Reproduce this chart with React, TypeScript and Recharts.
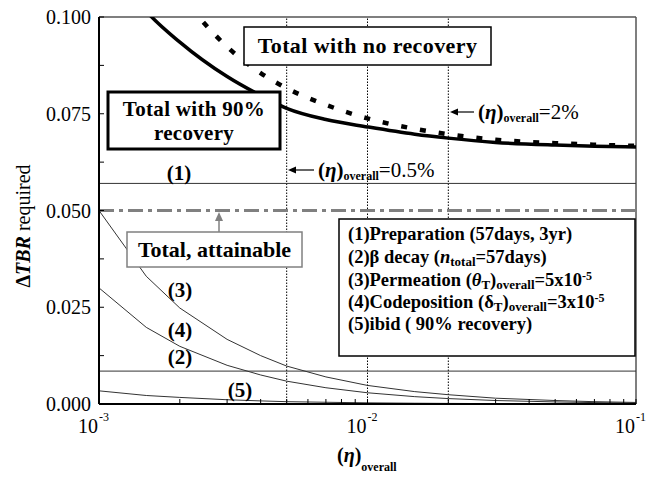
import React from 'react';
import { ComposedChart, Line, XAxis, YAxis, ReferenceLine } from 'recharts';

const ETA = [0.001, 0.0015, 0.002, 0.003, 0.004, 0.005, 0.007, 0.01, 0.015, 0.02, 0.03, 0.05, 0.07, 0.1];
const TOTAL_90 = [0.119, 0.1015, 0.0935, 0.0846, 0.0797, 0.0764, 0.0735, 0.0716, 0.0697, 0.0687, 0.0676, 0.0669, 0.0666, 0.0664];
const TOTAL_NONE = [0.145, 0.118, 0.106, 0.0923, 0.0855, 0.0816, 0.0773, 0.0738, 0.0711, 0.0697, 0.0683, 0.0674, 0.067, 0.0667];
const PERMEATION = [0.05, 0.033, 0.0248, 0.0167, 0.0125, 0.0098, 0.007, 0.0048, 0.0032, 0.0024, 0.0015, 0.0009, 0.0006, 0.0004];
const CODEPOSITION = [0.03, 0.0198, 0.0149, 0.01, 0.0075, 0.0059, 0.0042, 0.0029, 0.0019, 0.0014, 0.0009, 0.00054, 0.00036, 0.00024];
const IBID = [0.0034, 0.0022, 0.0017, 0.0011, 0.0008, 0.0006, 0.00045, 0.0003, 0.0002, 0.00015, 0.0001, 0.00006, 0.00004, 0.00003];

const PREPARATION = 0.057;
const BETA_DECAY = 0.0085;
const ATTAINABLE = 0.05;
const ETA_MARKS = [0.005, 0.01, 0.02];

const X_TICKS = [0.001, 0.002, 0.003, 0.004, 0.005, 0.006, 0.007, 0.008, 0.009, 0.01, 0.02, 0.03, 0.04, 0.05, 0.06, 0.07, 0.08, 0.09, 0.1];
const X_LABELS: Record<string, string> = { '0.001': '-3', '0.01': '-2', '0.1': '-1' };
const Y_TICKS = [0, 0.0125, 0.025, 0.0375, 0.05, 0.0625, 0.075, 0.0875, 0.1];
const Y_LABELS = [0, 0.025, 0.05, 0.075, 0.1];

const data = ETA.map((eta, i) => ({
  eta,
  total90: TOTAL_90[i],
  totalNone: TOTAL_NONE[i],
  perm: PERMEATION[i],
  codep: CODEPOSITION[i],
  ibid: IBID[i],
}));

const FONT = '"Liberation Serif", "Times New Roman", serif';

const XTick = (props: any) => {
  const { x, y, payload } = props;
  const v = payload.value;
  const lab = X_LABELS[String(v)];
  return (
    <g>
      <line x1={x} x2={x} y1={y} y2={y - 5} stroke="#000" strokeWidth={1} />
      {lab && (
        <text x={x - 1} y={y + 29} fontFamily={FONT} fontSize={20} fill="#000" textAnchor="end">10</text>
      )}
      {lab && (
        <text x={x} y={y + 17} fontFamily={FONT} fontSize={12} fill="#000" textAnchor="start">{lab}</text>
      )}
    </g>
  );
};

const YTick = (props: any) => {
  const { x, y, payload } = props;
  const v = payload.value;
  const isMajor = Y_LABELS.some((m) => Math.abs(m - v) < 1e-9);
  return (
    <g>
      <line x1={x} x2={x + 5} y1={y} y2={y} stroke="#000" strokeWidth={1} />
      {isMajor && (
        <text x={x - 8} y={y + 7} fontFamily={FONT} fontSize={20} fill="#000" textAnchor="end">{v.toFixed(3)}</text>
      )}
    </g>
  );
};

const Overlay = () => (
  <svg width={665} height={477} style={{ position: 'absolute', left: 0, top: 0, pointerEvents: 'none' }} fontFamily={FONT}>
    {/* Total with no recovery */}
    <rect x={244} y={27} width={247} height={38} fill="#fff" stroke="#000" strokeWidth={1.5} />
    <text x={367.5} y={53} textAnchor="middle" fontSize={22} fontWeight="bold" fill="#000" letterSpacing={0.4}>Total with no recovery</text>

    {/* Total with 90% recovery */}
    <rect x={108} y={92} width={172} height={57} fill="#fff" stroke="#000" strokeWidth={3} />
    <text x={194} y={116} textAnchor="middle" fontSize={21} fontWeight="bold" fill="#000" letterSpacing={0.3}>Total with 90%</text>
    <text x={194} y={140} textAnchor="middle" fontSize={21} fontWeight="bold" fill="#000" letterSpacing={0.3}>recovery</text>

    {/* Total, attainable */}
    <line x1={219} y1={232} x2={219} y2={220} stroke="#808080" strokeWidth={1.5} />
    <polygon points="219,212 215,221 223,221" fill="#808080" />
    <rect x={127} y={232} width={175} height={35} fill="#fff" stroke="#808080" strokeWidth={1.5} />
    <text x={214.5} y={257} textAnchor="middle" fontSize={22} fontWeight="bold" fill="#000">Total, attainable</text>

    {/* Legend box */}
    <rect x={339} y={219} width={296} height={137} fill="#fff" stroke="#000" strokeWidth={1.5} />
    <g fontSize={18.5} fontWeight="bold" fill="#000">
      <text x={348} y={240}>(1)Preparation (57days, 3yr)</text>
      <text x={348} y={263}>
        (2)β decay (<tspan fontStyle="italic">n</tspan>
        <tspan fontSize={13} dy={3}>total</tspan>
        <tspan dy={-3}>=57days)</tspan>
      </text>
      <text x={348} y={286}>
        (3)Permeation (<tspan fontStyle="italic">θ</tspan>
        <tspan fontSize={13} dy={3}>T</tspan>
        <tspan dy={-3}>)</tspan>
        <tspan fontSize={13} dy={3}>overall</tspan>
        <tspan dy={-3}>=5x10</tspan>
        <tspan fontSize={12} dy={-6}>-5</tspan>
      </text>
      <text x={348} y={308}>
        (4)Codeposition (δ<tspan fontSize={13} dy={3}>T</tspan>
        <tspan dy={-3}>)</tspan>
        <tspan fontSize={13} dy={3}>overall</tspan>
        <tspan dy={-3}>=3x10</tspan>
        <tspan fontSize={12} dy={-6}>-5</tspan>
      </text>
      <text x={348} y={330}>(5)ibid ( 90% recovery)</text>
    </g>

    {/* eta annotations */}
    <line x1={474} y1={112} x2={456} y2={112} stroke="#000" strokeWidth={1.2} />
    <polygon points="450,112 458,108.5 458,115.5" fill="#000" />
    <text x={478} y={119} fontSize={21} fill="#000">
      <tspan fontWeight="bold">(</tspan>
      <tspan fontWeight="bold" fontStyle="italic">η</tspan>
      <tspan fontWeight="bold">)</tspan>
      <tspan fontWeight="bold" fontSize={12} dy={3}>overall</tspan>
      <tspan dy={-3}>=2%</tspan>
    </text>
    <line x1={314} y1={170} x2={294} y2={170} stroke="#000" strokeWidth={1.2} />
    <polygon points="288,170 296,166.5 296,173.5" fill="#000" />
    <text x={318} y={177} fontSize={21} fill="#000">
      <tspan fontWeight="bold">(</tspan>
      <tspan fontWeight="bold" fontStyle="italic">η</tspan>
      <tspan fontWeight="bold">)</tspan>
      <tspan fontWeight="bold" fontSize={12} dy={3}>overall</tspan>
      <tspan dy={-3}>=0.5%</tspan>
    </text>

    {/* curve labels */}
    <g fontSize={21} fontWeight="bold" fill="#000" textAnchor="middle">
      <text x={179} y={180}>(1)</text>
      <text x={180} y={297}>(3)</text>
      <text x={180} y={337}>(4)</text>
      <text x={180} y={364}>(2)</text>
      <text x={240} y={397}>(5)</text>
    </g>

    {/* axis titles */}
    <text transform="translate(30,226) rotate(-90)" textAnchor="middle" fontSize={20} fill="#000">
      <tspan fontWeight="bold">Δ</tspan>
      <tspan fontWeight="bold" fontStyle="italic">TBR</tspan>
      <tspan> required</tspan>
    </text>
    <text x={337} y={462} fontSize={20} fill="#000" fontWeight="bold">
      (<tspan fontStyle="italic">η</tspan>)
      <tspan fontSize={12} dy={9}>overall</tspan>
    </text>
  </svg>
);

export default function App() {
  return (
    <div style={{ position: 'absolute', left: 0, top: 0, width: 665, height: 477, background: '#fff' }}>
      <ComposedChart width={665} height={477} data={data} margin={{ top: 17, right: 29, bottom: 33, left: 39 }}>
        <XAxis
          dataKey="eta"
          type="number"
          scale="log"
          domain={[0.001, 0.1]}
          ticks={X_TICKS}
          interval={0}
          allowDataOverflow
          height={40}
          tickSize={0}
          tickMargin={0}
          tickLine={false}
          tick={<XTick />}
          axisLine={{ stroke: '#000', strokeWidth: 2 }}
        />
        <YAxis
          type="number"
          domain={[0, 0.1]}
          ticks={Y_TICKS}
          interval={0}
          allowDataOverflow
          width={60}
          tickSize={0}
          tickMargin={0}
          tickLine={false}
          tick={<YTick />}
          axisLine={{ stroke: '#000', strokeWidth: 2 }}
        />
        <ReferenceLine y={0.1} stroke="#555" strokeWidth={1.5} />
        <ReferenceLine x={0.1} stroke="#555" strokeWidth={1.5} />
        {ETA_MARKS.map((m) => (
          <ReferenceLine key={m} x={m} stroke="#000" strokeWidth={1} strokeDasharray="1.5 1.5" />
        ))}
        <ReferenceLine y={PREPARATION} stroke="#333" strokeWidth={1} />
        <ReferenceLine y={BETA_DECAY} stroke="#333" strokeWidth={1} />
        <ReferenceLine y={ATTAINABLE} stroke="#808080" strokeWidth={3} strokeDasharray="15 5 4 5" />
        <Line dataKey="perm" type="linear" stroke="#333" strokeWidth={1} dot={false} isAnimationActive={false} />
        <Line dataKey="codep" type="linear" stroke="#333" strokeWidth={1} dot={false} isAnimationActive={false} />
        <Line dataKey="ibid" type="linear" stroke="#333" strokeWidth={1} dot={false} isAnimationActive={false} />
        <Line dataKey="totalNone" type="monotone" stroke="#000" strokeWidth={4.5} strokeDasharray="6 13" dot={false} isAnimationActive={false} />
        <Line dataKey="total90" type="monotone" stroke="#000" strokeWidth={3.5} dot={false} isAnimationActive={false} />
      </ComposedChart>
      <Overlay />
    </div>
  );
}
